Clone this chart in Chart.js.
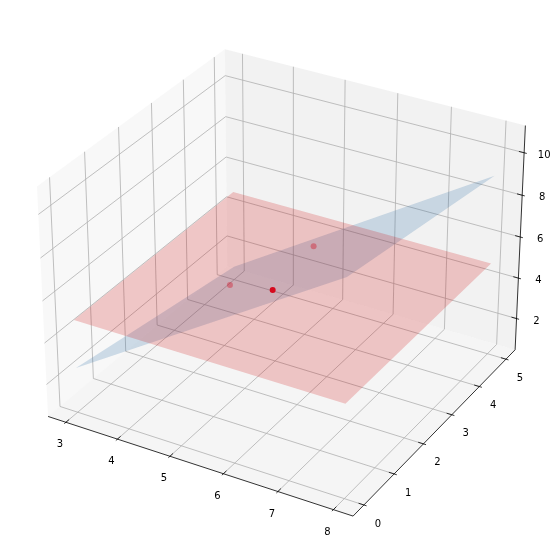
<!DOCTYPE html>
<html>
<head>
<meta charset="utf-8">
<style>
  html, body { margin: 0; padding: 0; background: #fff; }
  canvas { display: block; }
</style>
<script src="https://cdn.jsdelivr.net/npm/chart.js@4"></script>
</head>
<body>
<canvas id="myChart" width="560" height="558"></canvas>
<script>
var xTicks = [3, 4, 5, 6, 7, 8];
var yTicks = [0, 1, 2, 3, 4, 5];
var zTicks = [2, 4, 6, 8, 10];
var xLimits = [2.65, 8.35];
var yLimits = [-0.35, 5.35];
var zLimits = [0.435, 11.265];

// plane corners: (3,0) (8,0) (8,5) (3,5)
var planeX = [3, 8, 8, 3];
var planeY = [0, 0, 5, 5];
var redZ = [4.9, 4.9, 4.9, 4.9];
var blueZ = [2.6, 10.6, 9.1, 1.1];

var pointX = [4.6, 5.29, 5.155];
var pointY = [2.22, 2.43, 4.03];
var pointZ = [4.9, 4.9, 4.9];
var pointColor = ['rgba(210,20,40,0.4)', 'rgba(214,10,30,1)', 'rgba(210,20,40,0.4)'];

// same camera as a matplotlib 3d axes: elev 30, azim -60, box 4:4:3
var boxX = 1.1905, boxY = 1.1905, boxZ = 0.8929, dist = 10;

function project(x, y, z) {
    var qx = ((x - xLimits[0]) / (xLimits[1] - xLimits[0]) - 0.5) * boxX;
    var qy = ((y - yLimits[0]) / (yLimits[1] - yLimits[0]) - 0.5) * boxY;
    var qz = ((z - zLimits[0]) / (zLimits[1] - zLimits[0]) - 0.5) * boxZ;
    var u = 0.866025 * qx + 0.5 * qy;
    var v = -0.25 * qx + 0.433013 * qy + 0.866025 * qz;
    var d = dist - (0.433013 * qx - 0.75 * qy + 0.5 * qz);
    return { x: u / d, y: v / d };
}

function path(list) {
    return list.map(function (p) { return project(p[0], p[1], p[2]); });
}

function shape(list, color) {
    return { data: path(list), showLine: true, fill: 'shape', backgroundColor: color, borderWidth: 0, pointRadius: 0, tension: 0 };
}

function line(list, color, width) {
    return { data: path(list), showLine: true, fill: false, borderColor: color, borderWidth: width, pointRadius: 0, tension: 0 };
}

var x0 = xLimits[0], x1 = xLimits[1], y0 = yLimits[0], y1 = yLimits[1], z0 = zLimits[0], z1 = zLimits[1];
var xStep = (x1 - x0) / 12, yStep = (y1 - y0) / 12;
var gridColor = 'rgb(176,176,176)';
var layers = [];

layers.push(shape([[x0, y0, z0], [x0, y1, z0], [x0, y1, z1], [x0, y0, z1]], 'rgba(242,242,242,0.5)'));
layers.push(shape([[x0, y1, z0], [x1, y1, z0], [x1, y1, z1], [x0, y1, z1]], 'rgba(230,230,230,0.5)'));
layers.push(shape([[x0, y0, z0], [x1, y0, z0], [x1, y1, z0], [x0, y1, z0]], 'rgba(236,236,236,0.5)'));

xTicks.forEach(function (t) {
    layers.push(line([[t, y0, z0], [t, y1, z0], [t, y1, z1]], gridColor, 0.8));
});
yTicks.forEach(function (t) {
    layers.push(line([[x1, t, z0], [x0, t, z0], [x0, t, z1]], gridColor, 0.8));
});
zTicks.forEach(function (t) {
    layers.push(line([[x0, y0, t], [x0, y1, t], [x1, y1, t]], gridColor, 0.8));
});

layers.push(line([[x0, y0, z0], [x1, y0, z0]], '#000', 0.8));
layers.push(line([[x1, y0, z0], [x1, y1, z0]], '#000', 0.8));
layers.push(line([[x1, y1, z0], [x1, y1, z1]], '#000', 0.8));

xTicks.forEach(function (t) {
    layers.push(line([[t, y0 - 0.1 * yStep, z0], [t, y0 + 0.2 * yStep, z0]], '#000', 0.8));
});
yTicks.forEach(function (t) {
    layers.push(line([[x1 + 0.1 * xStep, t, z0], [x1 - 0.2 * xStep, t, z0]], '#000', 0.8));
});
zTicks.forEach(function (t) {
    layers.push(line([[x1 + 0.1 * xStep, y1, t], [x1 - 0.2 * xStep, y1, t]], '#000', 0.8));
});

function corners(zs) {
    return planeX.map(function (x, i) { return [x, planeY[i], zs[i]]; });
}

layers.push(shape(corners(blueZ), 'rgba(31,100,160,0.2)'));
layers.push(shape(corners(redZ), 'rgba(205,0,0,0.2)'));

layers.push({
    data: path(pointX.map(function (x, i) { return [x, pointY[i], pointZ[i]]; })),
    showLine: false,
    pointRadius: 3,
    pointBorderWidth: 0,
    pointBackgroundColor: pointColor
});

// draw in the order they were pushed
layers.forEach(function (d, i) { d.order = layers.length - i; });

var tickText = {
    id: 'tickText',
    afterDraw: function (chart) {
        var c = chart.ctx, sx = chart.scales.x, sy = chart.scales.y;
        function put(text, p, dx, dy) {
            c.fillText(text, sx.getPixelForValue(p.x) + dx, sy.getPixelForValue(p.y) + dy);
        }
        c.save();
        c.font = '10px "DejaVu Sans"';
        c.fillStyle = '#000';
        c.textAlign = 'center';
        c.textBaseline = 'middle';
        xTicks.forEach(function (t) { put(String(t), project(t, y0, z0), -6, 22.5); });
        yTicks.forEach(function (t) { put(String(t), project(x1, t, z0), 14, 19); });
        zTicks.forEach(function (t) { put(String(t), project(x1, y1, t), 20, 2.5); });
        c.restore();
    }
};

var ctx = document.getElementById('myChart').getContext('2d');
var myChart = new Chart(ctx, {
    type: 'scatter',
    data: { datasets: layers },
    plugins: [tickText],
    options: {
        responsive: false,
        animation: false,
        layout: { padding: 0, autoPadding: false },
        plugins: { legend: { display: false }, tooltip: { enabled: false } },
        scales: {
            x: { display: false, min: -0.09741, max: 0.09339 },
            y: { display: false, min: -0.09761, max: 0.0925 }
        }
    }
});
</script>
</body>
</html>
